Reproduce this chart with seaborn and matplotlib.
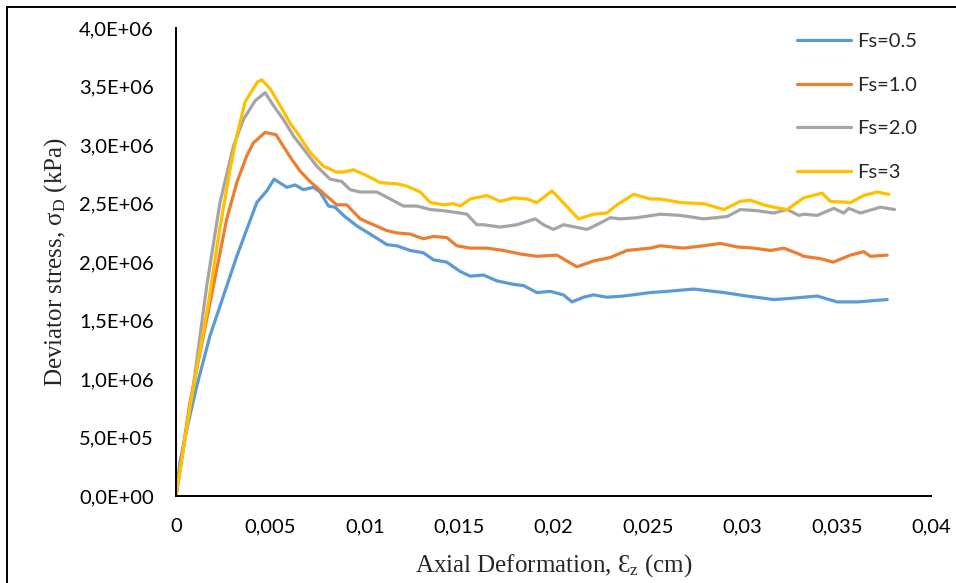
import numpy as np
import pandas as pd
import matplotlib
matplotlib.use("Agg")
import matplotlib.pyplot as plt
import seaborn as sns
from matplotlib.ticker import FuncFormatter, MultipleLocator

# data (x in cm, stress in 1e6 kPa)
series_names = ["Fs=0.5", "Fs=1.0", "Fs=2.0", "Fs=3"]

fs05_x = [0, 0.00021, 0.00057, 0.0011, 0.0018, 0.00251, 0.00322, 0.00375, 0.00428, 0.00481,
          0.0052, 0.00587, 0.00631, 0.00675, 0.00728, 0.00763, 0.00808, 0.00843, 0.00887, 0.00958,
          0.01029, 0.01117, 0.0117, 0.0124, 0.01311, 0.01364, 0.01435, 0.01506, 0.01559, 0.01629,
          0.017, 0.01788, 0.01841, 0.01912, 0.01983, 0.02053, 0.02098, 0.02159, 0.02212, 0.02283,
          0.02371, 0.02513, 0.02601, 0.02743, 0.02902, 0.03026, 0.03167, 0.03255, 0.03397, 0.03503,
          0.03609, 0.03768]
fs05_y = [0, 0.29, 0.57, 0.94, 1.37, 1.71, 2.05, 2.28, 2.51, 2.61,
          2.71, 2.64, 2.66, 2.62, 2.64, 2.60, 2.48, 2.47, 2.40, 2.31,
          2.24, 2.15, 2.14, 2.10, 2.08, 2.02, 2.00, 1.92, 1.88, 1.89,
          1.84, 1.81, 1.80, 1.74, 1.75, 1.72, 1.66, 1.70, 1.72, 1.70,
          1.71, 1.74, 1.75, 1.77, 1.74, 1.71, 1.68, 1.69, 1.71, 1.66,
          1.66, 1.68]

fs10_x = [0, 0.00074, 0.00145, 0.00216, 0.00269, 0.00322, 0.00375, 0.0041, 0.00472, 0.0053,
          0.00569, 0.00613, 0.00657, 0.0071, 0.00781, 0.00852, 0.00905, 0.00976, 0.01046, 0.01117,
          0.0117, 0.0124, 0.01311, 0.01364, 0.01435, 0.01488, 0.01559, 0.01647, 0.01735, 0.01824,
          0.01912, 0.02018, 0.02124, 0.02212, 0.02301, 0.0239, 0.02513, 0.02566, 0.02689, 0.02796,
          0.02884, 0.02973, 0.03061, 0.0315, 0.0322, 0.033, 0.03326, 0.03414, 0.03482, 0.03573,
          0.03644, 0.03679, 0.03768]
fs10_y = [0, 0.80, 1.37, 1.94, 2.37, 2.68, 2.91, 3.02, 3.11, 3.09,
          2.99, 2.88, 2.78, 2.69, 2.59, 2.49, 2.49, 2.37, 2.32, 2.27,
          2.25, 2.24, 2.20, 2.22, 2.21, 2.14, 2.12, 2.12, 2.10, 2.07,
          2.05, 2.06, 1.96, 2.01, 2.04, 2.10, 2.12, 2.14, 2.12, 2.14,
          2.16, 2.13, 2.12, 2.10, 2.12, 2.07, 2.05, 2.03, 2.00, 2.06,
          2.09, 2.05, 2.06]

fs20_x = [0, 0.00092, 0.00163, 0.00233, 0.00304, 0.00357, 0.00419, 0.00472, 0.00516, 0.00569,
          0.00622, 0.00675, 0.00746, 0.00816, 0.00878, 0.00922, 0.00976, 0.01064, 0.01135, 0.01205,
          0.01276, 0.01347, 0.01417, 0.01506, 0.01541, 0.01594, 0.01629, 0.01718, 0.01806, 0.01903,
          0.01947, 0.02, 0.02053, 0.02177, 0.0223, 0.02301, 0.02354, 0.02442, 0.02566, 0.02672,
          0.02796, 0.0292, 0.0299, 0.03079, 0.03167, 0.03238, 0.033, 0.03326, 0.03397, 0.03485,
          0.03538, 0.03564, 0.03626, 0.03732, 0.03807]
fs20_y = [0, 0.94, 1.80, 2.51, 2.99, 3.22, 3.38, 3.45, 3.34, 3.22,
          3.08, 2.97, 2.82, 2.71, 2.69, 2.62, 2.60, 2.60, 2.54, 2.48,
          2.48, 2.45, 2.44, 2.42, 2.41, 2.32, 2.32, 2.30, 2.32, 2.37,
          2.32, 2.28, 2.32, 2.28, 2.32, 2.38, 2.37, 2.38, 2.41, 2.40,
          2.37, 2.39, 2.45, 2.44, 2.42, 2.45, 2.40, 2.41, 2.40, 2.46,
          2.42, 2.46, 2.42, 2.47, 2.45]

fs30_x = [0, 0.00078, 0.00172, 0.00225, 0.00286, 0.00322, 0.00366, 0.00431, 0.00454, 0.005,
          0.00551, 0.00604, 0.00649, 0.0071, 0.00781, 0.00852, 0.00887, 0.0094, 0.01011, 0.01082,
          0.0117, 0.01223, 0.01294, 0.01347, 0.01417, 0.0147, 0.01506, 0.01559, 0.01647, 0.01718,
          0.01788, 0.01859, 0.01912, 0.01992, 0.02133, 0.02212, 0.02283, 0.02336, 0.02425, 0.02513,
          0.02566, 0.02672, 0.02796, 0.02902, 0.0299, 0.03043, 0.03114, 0.03167, 0.03238, 0.03326,
          0.03423, 0.03467, 0.03573, 0.03644, 0.03715, 0.03776]
fs30_y = [0, 0.80, 1.65, 2.22, 2.79, 3.08, 3.37, 3.54, 3.56, 3.48,
          3.34, 3.19, 3.09, 2.94, 2.82, 2.77, 2.77, 2.79, 2.74, 2.68,
          2.67, 2.65, 2.60, 2.51, 2.49, 2.50, 2.48, 2.54, 2.57, 2.52,
          2.55, 2.54, 2.51, 2.61, 2.37, 2.41, 2.42, 2.49, 2.58, 2.54,
          2.54, 2.51, 2.50, 2.45, 2.52, 2.53, 2.49, 2.47, 2.45, 2.55,
          2.59, 2.52, 2.51, 2.57, 2.60, 2.58]

colors = ["#5B9BD5", "#ED7D31", "#A5A5A5", "#FFC000"]

frames = []
for name, xs, ys in zip(series_names, [fs05_x, fs10_x, fs20_x, fs30_x],
                        [fs05_y, fs10_y, fs20_y, fs30_y]):
    frames.append(pd.DataFrame({"x": xs, "stress": np.array(ys) * 1e6, "series": name}))
df = pd.concat(frames, ignore_index=True)

sns.set_style("white")
plt.rcParams["font.family"] = ["Lato", "DejaVu Sans"]
plt.rcParams["mathtext.fontset"] = "custom"
plt.rcParams["mathtext.rm"] = "Liberation Serif"
plt.rcParams["mathtext.it"] = "Liberation Serif:italic"

fig = plt.figure(figsize=(9.56, 5.83), dpi=100)
ax = fig.add_axes([176 / 956, 1 - 496 / 583, (931 - 176) / 956, (496 - 28.3) / 583])

sns.lineplot(data=df, x="x", y="stress", hue="series", palette=colors,
             sort=False, estimator=None, linewidth=2.3, ax=ax)

ax.set_xlim(0, 0.04)
ax.set_ylim(0, 4.0e6)
ax.xaxis.set_major_locator(MultipleLocator(0.005))
ax.yaxis.set_major_locator(MultipleLocator(5e5))
ax.xaxis.set_major_formatter(FuncFormatter(lambda v, p: f"{round(v, 4):g}".replace(".", ",")))
ax.yaxis.set_major_formatter(FuncFormatter(lambda v, p: f"{v:.1E}".replace(".", ",")))
ax.tick_params(axis="both", length=0, labelsize=14.5, colors="black")
ax.tick_params(axis="y", pad=16)
ax.tick_params(axis="x", pad=16)

for s in ["top", "right"]:
    ax.spines[s].set_visible(False)
for s in ["left", "bottom"]:
    ax.spines[s].set_color("black")
    ax.spines[s].set_linewidth(1.4)

serif = ["Liberation Serif", "DejaVu Serif"]
ax.set_ylabel(r"Deviator stress, $\mathregular{\sigma_D}$ (kPa)", fontsize=18, family=serif)
ax.set_xlabel("Axial Deformation, Ɛ$_\\mathregular{z}$ (cm)", fontsize=18, family=serif)
ax.yaxis.set_label_coords(-0.142, 0.5)
ax.xaxis.set_label_coords(0.5, -0.12)

handles, labels = ax.get_legend_handles_labels()
ax.legend(handles, labels, loc="upper left", bbox_to_anchor=(797 / 956, 1 - 33 / 583),
          bbox_transform=fig.transFigure, frameon=False, fontsize=14.5,
          handlelength=2.7, handletextpad=0.3, labelspacing=1.32,
          borderpad=0, borderaxespad=0)

# outer frame lines (left and top) as in the reference
fig.add_artist(plt.Line2D([7 / 956, 7 / 956], [0, 1 - 7 / 583], color="black", lw=1.4,
                          transform=fig.transFigure))
fig.add_artist(plt.Line2D([7 / 956, 1], [1 - 7 / 583, 1 - 7 / 583], color="black", lw=1.4,
                          transform=fig.transFigure))

fig.savefig("out.png", dpi=100)
